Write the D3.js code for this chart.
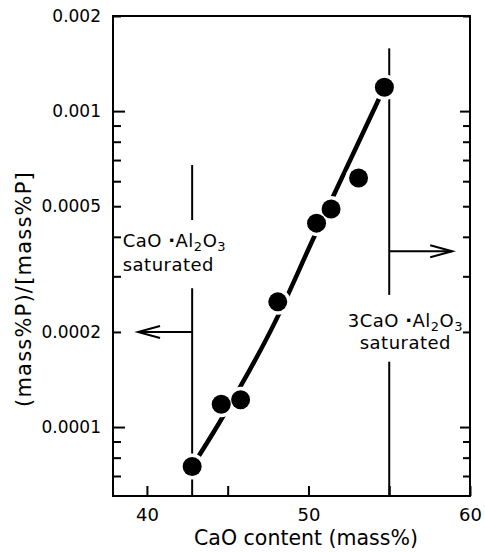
<!DOCTYPE html>
<html>
<head>
<meta charset="utf-8">
<script src="https://cdnjs.cloudflare.com/ajax/libs/d3/7.8.5/d3.min.js"></script>
<style>
  body { margin: 0; background: #fff; }
  text { font-family: "DejaVu Sans", sans-serif; fill: #000; }
</style>
</head>
<body>
<script>
// measured points: CaO content vs phosphorus distribution ratio
var cao   = [42.8, 44.6, 45.8, 48.1, 50.5, 51.4, 53.1, 54.7];
var ratio = [7.5e-5, 1.18e-4, 1.22e-4, 2.49e-4, 4.42e-4, 4.9e-4, 6.14e-4, 1.19e-3];

// hand-drawn fit through the points
var fitX = [42.8, 44.47, 47.95, 50.31, 54.7];
var fitY = [7.5e-5, 1.03e-4, 2.16e-4, 3.96e-4, 1.19e-3];

// tick values
var xTicks = [40, 45, 50, 55, 60];
var xLabels = [40, 50, 60];
var yTicks = [7e-5, 8e-5, 9e-5, 1e-4, 2e-4, 3e-4, 4e-4, 5e-4, 6e-4, 7e-4, 8e-4, 9e-4, 1e-3, 2e-3];
var yLabels = [1e-4, 2e-4, 5e-4, 1e-3, 2e-3];
var yDecades = [1e-4, 1e-3];

// saturation boundaries (CaO content) and their line pieces
var boundX = [42.8, 55];
var boundSeg = [
  [[6.75e-4, 4.52e-4], [2.75e-4, 6.05e-5]],
  [[1.58e-3, 2.62e-4], [1.61e-4, 6.05e-5]]
];
var arrowY = [2e-4, 3.6e-4];
var arrowTo = [39.45, 58.9];

var W = 485, H = 552;
var m = {left: 113, right: 470, top: 16, bottom: 496};

var x = d3.scaleLinear().domain([37.9, 60]).range([m.left, m.right]);
var y = d3.scaleLog().domain([6.05e-5, 2e-3]).range([m.bottom, m.top]);

var svg = d3.select("body").append("svg")
    .attr("width", W)
    .attr("height", H);

// frame
svg.append("rect")
    .attr("x", m.left).attr("y", m.top)
    .attr("width", m.right - m.left).attr("height", m.bottom - m.top)
    .attr("fill", "none").attr("stroke", "#000").attr("stroke-width", 2);

function fmt(d) {
  if (yLabels.indexOf(d) < 0) return "";
  return d3.format(".4~f")(d);
}

// left axis, ticks pointing inward
var gy = svg.append("g")
    .attr("transform", "translate(" + m.left + ",0)")
    .call(d3.axisLeft(y).tickValues(yTicks).tickFormat(fmt)
      .tickSizeInner(-8).tickSizeOuter(0).tickPadding(12));
gy.select(".domain").remove();
gy.selectAll(".tick line")
    .attr("stroke-width", 2)
    .attr("x2", function(d) { return yDecades.indexOf(d) >= 0 ? 12 : 8; });
gy.selectAll(".tick text").style("font-size", "17px");

// right axis
var gr = svg.append("g")
    .attr("transform", "translate(" + m.right + ",0)")
    .call(d3.axisRight(y).tickValues(yTicks).tickFormat("")
      .tickSizeInner(-7).tickSizeOuter(0));
gr.select(".domain").remove();
gr.selectAll(".tick line")
    .attr("stroke-width", 2)
    .attr("x2", function(d) { return yDecades.indexOf(d) >= 0 ? -10 : -7; });

// bottom axis
var gx = svg.append("g")
    .attr("transform", "translate(0," + m.bottom + ")")
    .call(d3.axisBottom(x).tickValues(xTicks)
      .tickFormat(function(d) { return xLabels.indexOf(d) >= 0 ? d : ""; })
      .tickSizeInner(-10).tickSizeOuter(0).tickPadding(12));
gx.select(".domain").remove();
gx.selectAll(".tick line").attr("stroke-width", 2);
gx.selectAll(".tick text").style("font-size", "18px");

// axis titles
svg.append("text")
    .attr("x", 306).attr("y", 545)
    .attr("text-anchor", "middle")
    .style("font-size", "20.5px")
    .text("CaO content (mass%)");

svg.append("text")
    .attr("transform", "translate(31,289) rotate(-90)")
    .attr("text-anchor", "middle")
    .style("font-size", "21px")
    .style("letter-spacing", "1.2px")
    .text("(mass%P)/[mass%P]");

// saturation boundary lines
boundX.forEach(function(bx, i) {
  boundSeg[i].forEach(function(s) {
    svg.append("line")
        .attr("x1", x(bx)).attr("x2", x(bx))
        .attr("y1", y(s[0])).attr("y2", y(s[1]))
        .attr("stroke", "#000").attr("stroke-width", 2);
  });
  // arrow
  var ax0 = x(bx), ax1 = x(arrowTo[i]), ay = y(arrowY[i]);
  var dir = ax1 > ax0 ? 1 : -1;
  svg.append("line")
      .attr("x1", ax0).attr("x2", ax1)
      .attr("y1", ay).attr("y2", ay)
      .attr("stroke", "#000").attr("stroke-width", 2);
  svg.append("polyline")
      .attr("points", [[ax1 - dir * 22, ay - 6], [ax1, ay], [ax1 - dir * 22, ay + 6]].join(" "))
      .attr("fill", "none").attr("stroke", "#000").attr("stroke-width", 2);
});

// annotation text with subscripts; part = [text, sub, back-up, bold]
function formula(g, parts) {
  parts.forEach(function(p) {
    var t = g.append("tspan").text(p[0]);
    if (p[1]) t.attr("dy", 4).style("font-size", "13px");
    else if (p[2]) t.attr("dy", -4);
    if (p[3]) t.style("font-weight", "bold");
  });
}

var t1 = svg.append("text")
    .attr("x", x(38.5)).attr("y", y(3.71e-4))
    .style("font-size", "18px").style("letter-spacing", "0.5px");
formula(t1, [["CaO "], ["·", 0, 0, 1], ["Al"], ["2", 1], ["O", 0, 1], ["3", 1]]);
svg.append("text")
    .attr("x", x(38.5)).attr("y", y(3.71e-4) + 23.5)
    .style("font-size", "18px").style("letter-spacing", "0.5px")
    .text("saturated");

var t2 = svg.append("text")
    .attr("x", x(56)).attr("y", y(2.08e-4))
    .attr("text-anchor", "middle")
    .style("font-size", "18px").style("letter-spacing", "0.5px");
formula(t2, [["3CaO "], ["·", 0, 0, 1], ["Al"], ["2", 1], ["O", 0, 1], ["3", 1]]);
svg.append("text")
    .attr("x", x(56)).attr("y", y(2.08e-4) + 22)
    .attr("text-anchor", "middle")
    .style("font-size", "18px").style("letter-spacing", "0.5px")
    .text("saturated");

// fit curve
var line = d3.line()
    .x(function(d) { return x(d[0]); })
    .y(function(d) { return y(d[1]); })
    .curve(d3.curveMonotoneX);

svg.append("path")
    .datum(fitX.map(function(v, i) { return [v, fitY[i]]; }))
    .attr("d", line)
    .attr("fill", "none")
    .attr("stroke", "#000")
    .attr("stroke-width", 4.5);

// points: white halo first, then the filled dots
var pts = cao.map(function(v, i) { return [v, ratio[i]]; });

svg.append("g").selectAll("circle")
    .data(pts)
  .enter().append("circle")
    .attr("cx", function(d) { return x(d[0]); })
    .attr("cy", function(d) { return y(d[1]); })
    .attr("r", 13)
    .attr("fill", "#fff");

svg.append("g").selectAll("circle")
    .data(pts)
  .enter().append("circle")
    .attr("cx", function(d) { return x(d[0]); })
    .attr("cy", function(d) { return y(d[1]); })
    .attr("r", 9.5)
    .attr("fill", "#000");
</script>
</body>
</html>
